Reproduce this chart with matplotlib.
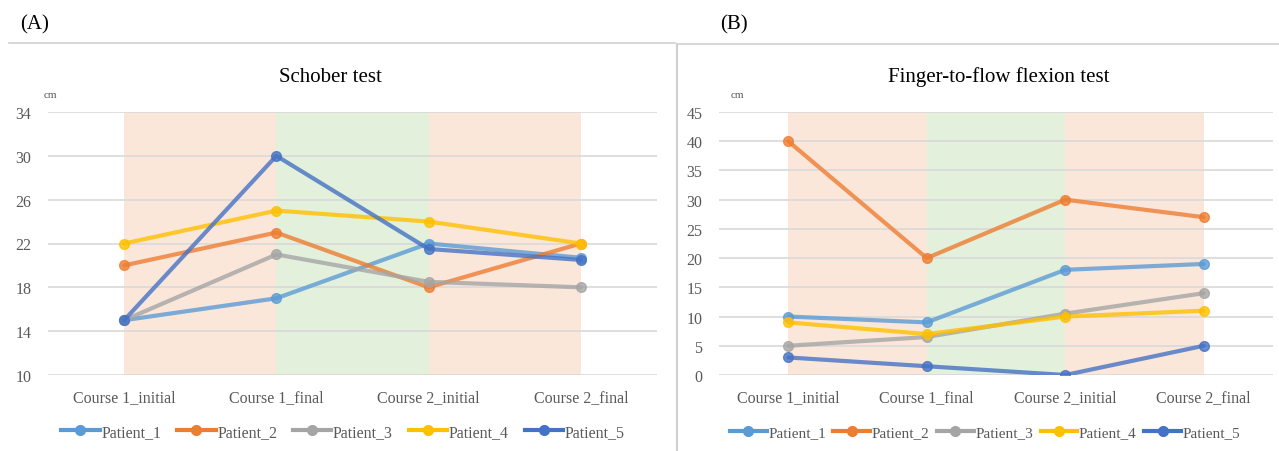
import matplotlib.pyplot as plt
import matplotlib.lines as mlines
import numpy as np

plt.rcParams['font.family'] = ['Liberation Serif', 'DejaVu Serif']

courses = ['Course 1_initial', 'Course 1_final', 'Course 2_initial', 'Course 2_final']
patients = ['Patient_1', 'Patient_2', 'Patient_3', 'Patient_4', 'Patient_5']
colors = ['#5B9BD5', '#ED7D31', '#A5A5A5', '#FFC000', '#4472C4']

# Schober test (cm)
schober_p1 = [15, 17, 22, 20.7]
schober_p2 = [20, 23, 18, 22]
schober_p3 = [15, 21, 18.5, 18]
schober_p4 = [22, 25, 24, 22]
schober_p5 = [15, 30, 21.5, 20.5]

# Finger-to-floor flexion test (cm)
finger_p1 = [10, 9, 18, 19]
finger_p2 = [40, 20, 30, 27]
finger_p3 = [5, 6.5, 10.5, 14]
finger_p4 = [9, 7, 10, 11]
finger_p5 = [3, 1.5, 0, 5]

schober = [schober_p1, schober_p2, schober_p3, schober_p4, schober_p5]
finger = [finger_p1, finger_p2, finger_p3, finger_p4, finger_p5]

peach = '#FBE6DA'
green = '#E3F0DC'
grid_c = '#D9D9D9'
tick_c = '#595959'


def draw_panel(ax, series, ylim, yticks, title, tx, lx, lfs, lcs):
    x = np.arange(len(courses))
    ax.axvspan(0, 1, color=peach, lw=0, zorder=0)
    ax.axvspan(1, 2, color=green, lw=0, zorder=0)
    ax.axvspan(2, 3, color=peach, lw=0, zorder=0)
    for yv in yticks:
        ax.axhline(yv, color=grid_c, lw=1.2, zorder=1)
    for s, c in zip(series, colors):
        ax.plot(x, s, color=c, lw=3, alpha=0.8, marker='o', ms=7,
                zorder=3, solid_capstyle='round')
    ax.set_xlim(-0.5, 3.5)
    ax.set_ylim(*ylim)
    ax.set_yticks(yticks)
    ax.set_xticks(x)
    ax.set_xticklabels(courses)
    ax.tick_params(length=0, colors=tick_c, labelsize=11.5)
    ax.tick_params(axis='y', pad=12)
    ax.tick_params(axis='x', pad=10)
    for sp in ax.spines.values():
        sp.set_visible(False)
    handles = [mlines.Line2D([], [], color=c, lw=3, marker='o', ms=7)
               for c in colors]
    leg = ax.legend(handles, patients, loc='center', ncol=5,
                    bbox_to_anchor=(lx, 1 - 433 / 452),
                    bbox_transform=ax.figure.transFigure, frameon=False,
                    fontsize=lfs, handlelength=2.4, handletextpad=0.1,
                    columnspacing=lcs)
    for t in leg.get_texts():
        t.set_color(tick_c)
    ax.figure.text(tx, 1 - 77 / 452, title, ha='center', va='center',
                   fontsize=15)


fig = plt.figure(figsize=(12.79, 4.52), dpi=100)

axA = fig.add_axes([48 / 1279, 1 - 376 / 452, 609 / 1279, 263 / 452])
draw_panel(axA, schober, (10, 34), [10, 14, 18, 22, 26, 30, 34],
           'Schober test', 330 / 1279, 343 / 1279, 11.5, 1.0)

axB = fig.add_axes([719 / 1279, 1 - 376 / 452, 554 / 1279, 263 / 452])
draw_panel(axB, finger, (0, 45), list(range(0, 46, 5)),
           'Finger-to-flow flexion test', 999 / 1279, 985 / 1279, 11, 0.5)

# panel labels and cm units
fig.text(35 / 1279, 1 - 25 / 452, '(A)', ha='center', va='center', fontsize=15)
fig.text(734 / 1279, 1 - 25 / 452, '(B)', ha='center', va='center', fontsize=15)
fig.text(50 / 1279, 1 - 95 / 452, 'cm', ha='center', va='center', fontsize=8,
         color=tick_c)
fig.text(737 / 1279, 1 - 95 / 452, 'cm', ha='center', va='center', fontsize=8,
         color=tick_c)

# separators
fig.add_artist(mlines.Line2D([9 / 1279, 675 / 1279], [1 - 44 / 452] * 2,
                             color='#D0D0D0', lw=1.2))
fig.add_artist(mlines.Line2D([677 / 1279, 1], [1 - 45 / 452] * 2,
                             color='#D0D0D0', lw=1.2))
fig.add_artist(mlines.Line2D([677 / 1279] * 2, [0, 1 - 45 / 452],
                             color='#D0D0D0', lw=1.5))

fig.savefig('out.png', dpi=100)
